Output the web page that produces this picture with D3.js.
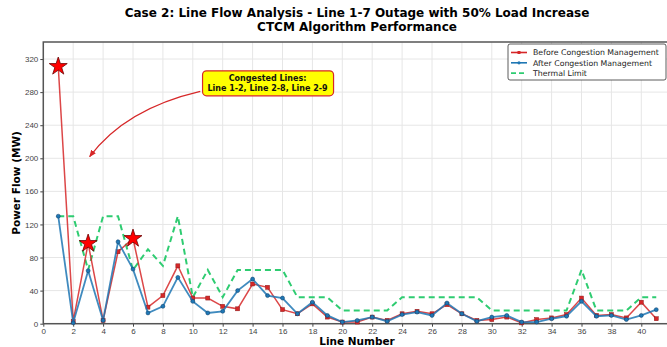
<!DOCTYPE html>
<html lang="en">
<head>
  <meta charset="UTF-8">
  <script src="https://d3js.org/d3.v7.min.js"></script>
  <style>
    body {
      background-color: #fff;
      margin: 0;
      overflow: hidden;
    }
    svg {
      font-family: "DejaVu Sans", sans-serif;
    }
    .grid line {
      stroke: #e6e6e6;
    }
    .tick text {
      fill: #444;
      font-size: 8px;
    }
  </style>
</head>
<body>

<svg width="667" height="347"></svg>

<script>
  // line numbers 1..41
  const lines = d3.range(1, 42);

  // flows before congestion management (MW)
  const before = [311, 3, 97, 4, 87, 103, 20, 34, 70, 31, 31, 21, 18, 48, 44, 17, 12, 24, 8, 2,
    2, 8, 4, 12, 15, 12, 23, 12, 4, 5, 8, 1, 5, 7, 11, 31, 10, 11, 7, 26, 6];

  // flows after congestion management (MW)
  const after = [130, 1, 64, 4, 99, 66, 13, 21, 56, 27, 13, 15, 40, 54, 34, 31, 12, 26, 10, 2,
    4, 8, 3, 11, 14, 10, 25, 12, 3, 8, 10, 2, 2, 6, 9, 27, 9, 10, 5, 10, 17];

  // thermal limits (MW)
  const limit = [130, 130, 65, 130, 130, 65, 90, 70, 130, 32, 65, 32, 65, 65, 65, 65, 32, 32, 32, 16,
    16, 16, 16, 32, 32, 32, 32, 32, 32, 16, 16, 16, 16, 16, 16, 65, 16, 16, 16, 32, 32];

  // congested lines marked with stars
  const congested = [1, 3, 6];

  const xTicks = d3.range(0, 41, 2);
  const yTicks = d3.range(0, 321, 40);

  const legendItems = [
    { label: 'Before Congestion Management', color: '#d62728', marker: 'square' },
    { label: 'After Congestion Management', color: '#1f77b4', marker: 'circle' },
    { label: 'Thermal Limit', color: '#2ecc71', marker: null, dash: '5,3' }
  ];

  const svg = d3.select('svg');
  const mLeft = 43.3, mTop = 42, mBottom = 323.7;

  const x = d3.scaleLinear().domain([0, 42]).range([mLeft, mLeft + 42 * 14.95]);
  const y = d3.scaleLinear().domain([0, 340.6]).range([mBottom, mTop]);

  // grid
  const grid = svg.append('g').attr('class', 'grid');
  grid.selectAll('line.v').data(xTicks).enter().append('line').attr('class', 'v')
    .attr('x1', d => x(d)).attr('x2', d => x(d))
    .attr('y1', mTop).attr('y2', mBottom);
  grid.selectAll('line.h').data(yTicks).enter().append('line').attr('class', 'h')
    .attr('x1', mLeft).attr('x2', 667)
    .attr('y1', d => y(d)).attr('y2', d => y(d));

  // axes
  svg.append('g')
    .attr('transform', `translate(0,${mBottom})`)
    .call(d3.axisBottom(x).tickValues(xTicks).tickSize(3).tickPadding(2))
    .call(g => g.select('.domain').remove());
  svg.append('g')
    .attr('transform', `translate(${mLeft},0)`)
    .call(d3.axisLeft(y).tickValues(yTicks).tickSize(3).tickPadding(2))
    .call(g => g.select('.domain').remove());
  svg.selectAll('.tick line').attr('stroke', '#444');

  // frame
  svg.append('rect')
    .attr('x', mLeft).attr('y', mTop)
    .attr('width', x(42) - mLeft).attr('height', mBottom - mTop)
    .attr('fill', 'none').attr('stroke', '#555').attr('stroke-width', 1.5);

  const lineGen = vals => d3.line()
    .x((d, i) => x(lines[i]))
    .y(d => y(d))(vals);

  // thermal limit
  svg.append('path')
    .attr('d', lineGen(limit))
    .attr('fill', 'none').attr('stroke', '#2ecc71')
    .attr('stroke-width', 2).attr('stroke-dasharray', '6,4');

  // before
  svg.append('path')
    .attr('d', lineGen(before))
    .attr('fill', 'none').attr('stroke', '#d62728')
    .attr('stroke-width', 1.5).attr('opacity', 0.85);
  svg.append('g').selectAll('rect').data(before).enter().append('rect')
    .attr('x', (d, i) => x(lines[i]) - 2).attr('y', d => y(d) - 2)
    .attr('width', 4).attr('height', 4)
    .attr('fill', '#d62728').attr('stroke', '#8b1a1a').attr('stroke-width', 0.5);

  // after
  svg.append('path')
    .attr('d', lineGen(after))
    .attr('fill', 'none').attr('stroke', '#1f77b4')
    .attr('stroke-width', 1.8).attr('opacity', 0.85);
  svg.append('g').selectAll('circle').data(after).enter().append('circle')
    .attr('cx', (d, i) => x(lines[i])).attr('cy', d => y(d))
    .attr('r', 2)
    .attr('fill', '#1f77b4').attr('stroke', '#0d3d66').attr('stroke-width', 0.5);

  // stars on congested lines
  const star = d3.symbol().type(d3.symbolStar).size(100);
  svg.append('g').selectAll('path').data(congested).enter().append('path')
    .attr('d', star)
    .attr('transform', d => `translate(${x(d)},${y(before[d - 1])})`)
    .attr('fill', '#ff0000').attr('stroke', '#6b0000').attr('stroke-width', 0.8);

  // annotation arrow
  const tx = x(15), ty = y(290);
  const ax = x(3.1), ay = y(202);
  const sx = x(10.5), sy = y(281);
  svg.append('defs').append('marker')
    .attr('id', 'head').attr('viewBox', '0 0 10 10')
    .attr('refX', 9).attr('refY', 5)
    .attr('markerWidth', 6).attr('markerHeight', 6)
    .attr('orient', 'auto')
    .append('path').attr('d', 'M0,1L10,5L0,9Z').attr('fill', '#d62728');
  svg.append('path')
    .attr('d', `M${sx},${sy} Q${x(5.5)},${y(260)} ${ax},${ay}`)
    .attr('fill', 'none').attr('stroke', '#d62728').attr('stroke-width', 1.2)
    .attr('marker-end', 'url(#head)');

  svg.append('rect')
    .attr('x', tx - 65).attr('y', ty - 13)
    .attr('width', 131).attr('height', 25).attr('rx', 4)
    .attr('fill', '#ffff00').attr('stroke', '#d62728').attr('stroke-width', 1.2);
  const annot = svg.append('text')
    .attr('x', tx).attr('text-anchor', 'middle')
    .attr('font-size', 8).attr('font-weight', 'bold').attr('fill', '#111');
  annot.append('tspan').attr('x', tx).attr('y', ty - 3).text('Congested Lines:');
  annot.append('tspan').attr('x', tx).attr('y', ty + 7).text('Line 1-2, Line 2-8, Line 2-9');

  // legend
  const lg = svg.append('g').attr('transform', 'translate(508,44)');
  lg.append('rect').attr('width', 158).attr('height', 36).attr('rx', 2)
    .attr('fill', '#fff').attr('stroke', '#333').attr('stroke-width', 0.8);
  legendItems.forEach((it, i) => {
    const yy = 8.5 + i * 10.3;
    lg.append('line').attr('x1', 3).attr('x2', 19).attr('y1', yy).attr('y2', yy)
      .attr('stroke', it.color).attr('stroke-width', 1.6)
      .attr('stroke-dasharray', it.dash || null);
    if (it.marker === 'square') {
      lg.append('rect').attr('x', 9.5).attr('y', yy - 1.5).attr('width', 3).attr('height', 3)
        .attr('fill', it.color);
    } else if (it.marker === 'circle') {
      lg.append('circle').attr('cx', 11).attr('cy', yy).attr('r', 1.6).attr('fill', it.color);
    }
    lg.append('text').attr('x', 25).attr('y', yy + 2.8)
      .attr('font-size', 7.8).attr('fill', '#222').text(it.label);
  });

  // titles
  svg.append('text').attr('x', 357).attr('y', 16.5).attr('text-anchor', 'middle')
    .attr('font-size', 12).attr('font-weight', 'bold')
    .text('Case 2: Line Flow Analysis - Line 1-7 Outage with 50% Load Increase');
  svg.append('text').attr('x', 357).attr('y', 30.5).attr('text-anchor', 'middle')
    .attr('font-size', 12).attr('font-weight', 'bold')
    .text('CTCM Algorithm Performance');

  svg.append('text').attr('x', 357).attr('y', 345).attr('text-anchor', 'middle')
    .attr('font-size', 10.5).attr('font-weight', 'bold').text('Line Number');
  svg.append('text').attr('transform', 'translate(20,183) rotate(-90)')
    .attr('text-anchor', 'middle')
    .attr('font-size', 10.5).attr('font-weight', 'bold').text('Power Flow (MW)');
</script>

</body>
</html>
